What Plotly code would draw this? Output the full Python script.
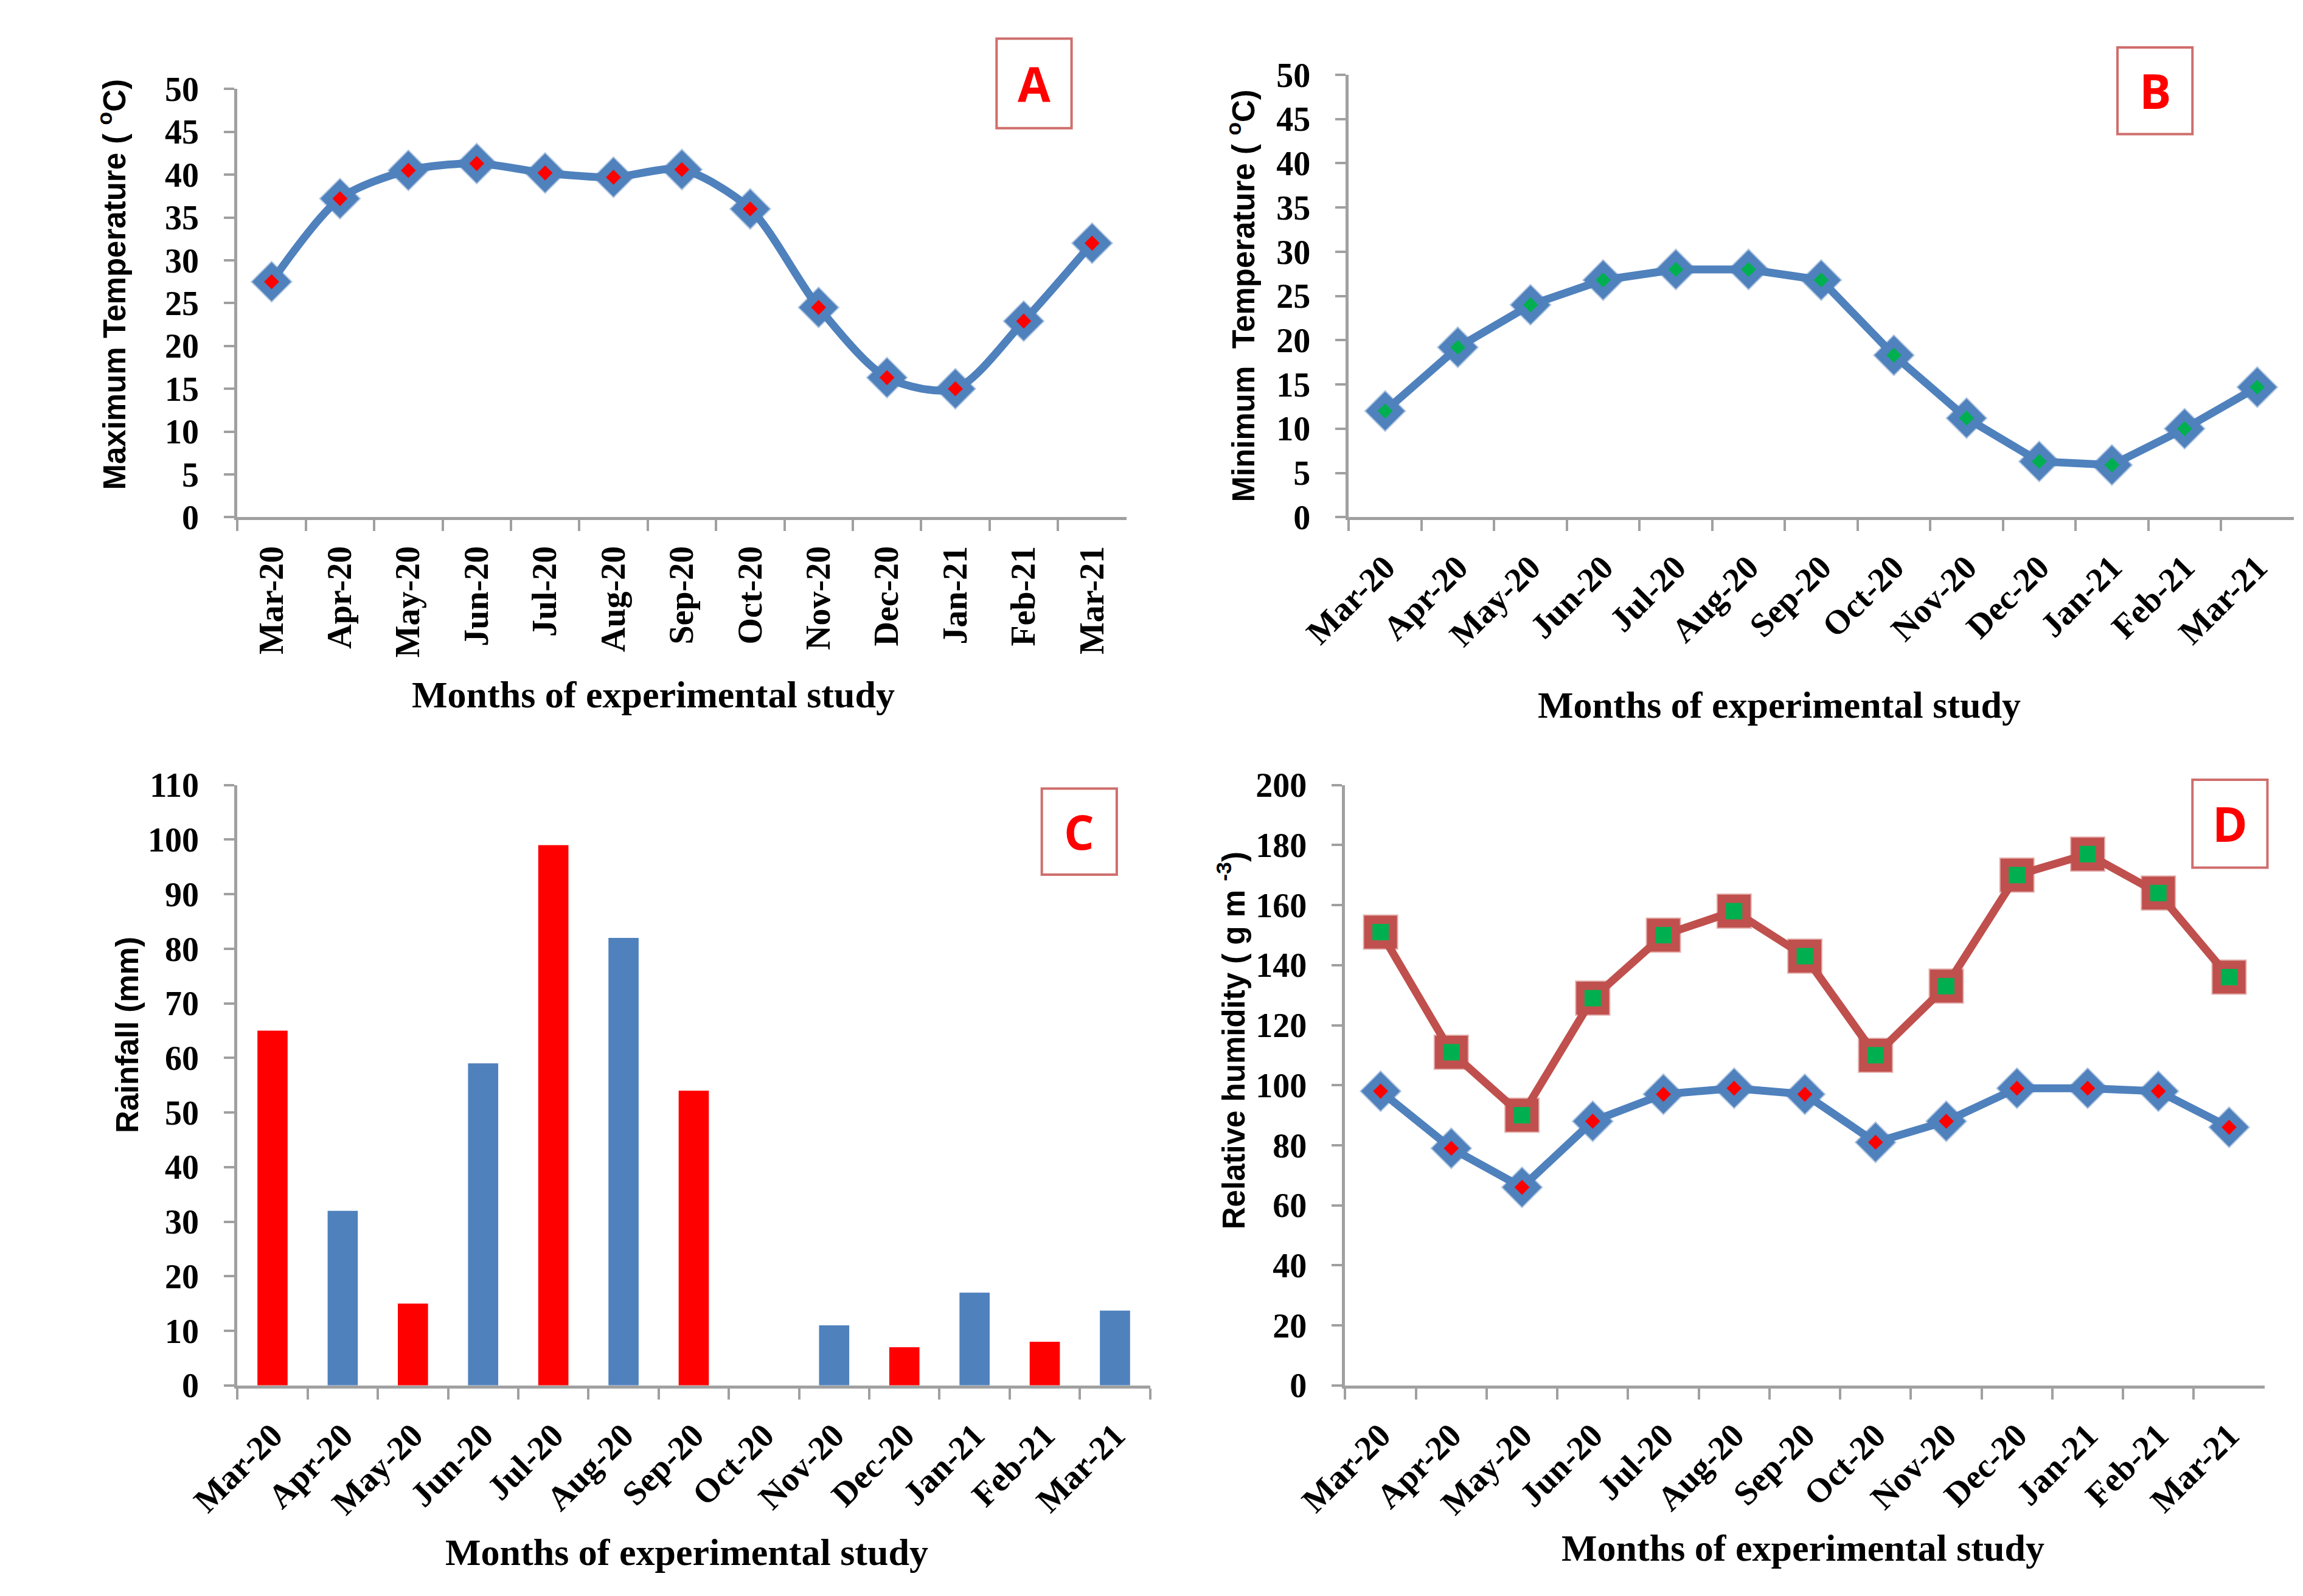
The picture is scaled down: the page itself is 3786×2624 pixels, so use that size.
import plotly.graph_objects as go

W, H = 3786, 2624

months = ["Mar-20", "Apr-20", "May-20", "Jun-20", "Jul-20", "Aug-20", "Sep-20",
          "Oct-20", "Nov-20", "Dec-20", "Jan-21", "Feb-21", "Mar-21"]
max_temp = [27.5, 37.2, 40.5, 41.3, 40.2, 39.7, 40.6, 36.0, 24.5, 16.3, 15.0, 22.9, 32.0]
min_temp = [12.0, 19.2, 24.0, 26.8, 28.0, 28.0, 26.8, 18.3, 11.2, 6.3, 5.9, 10.0, 14.7]
rainfall = [65, 32, 15, 59, 99, 82, 54, 0, 11, 7, 17, 8, 13.7]
rain_colors = ["#FF0000", "#4F81BD", "#FF0000", "#4F81BD", "#FF0000", "#4F81BD", "#FF0000",
               "#FF0000", "#4F81BD", "#FF0000", "#4F81BD", "#FF0000", "#4F81BD"]
rh_high = [151, 111, 90, 129, 150, 158, 143, 110, 133, 170, 177, 164, 136]
rh_low = [98, 79, 66, 88, 97, 99, 97, 81, 88, 99, 99, 98, 86]

BLUE = "#4F81BD"
DRED = "#C0504D"
AXC = "#A0A0A0"

def px(x):
    return x / W

def py(y):
    return 1 - y / H

fig = go.Figure()

big_diamond = dict(symbol="diamond", size=49, color=BLUE,
                   line=dict(color="rgba(79,129,189,0.45)", width=4))

# Panel A
fig.add_trace(go.Scatter(x=months, y=max_temp, mode="lines+markers", xaxis="x", yaxis="y",
                         line=dict(color=BLUE, width=13, shape="spline", smoothing=0.8),
                         marker=big_diamond, showlegend=False))
fig.add_trace(go.Scatter(x=months, y=max_temp, mode="markers", xaxis="x", yaxis="y",
                         marker=dict(symbol="diamond", size=19, color="#FF0000"), showlegend=False))
# Panel B
fig.add_trace(go.Scatter(x=months, y=min_temp, mode="lines+markers", xaxis="x2", yaxis="y2",
                         line=dict(color=BLUE, width=13),
                         marker=big_diamond, showlegend=False))
fig.add_trace(go.Scatter(x=months, y=min_temp, mode="markers", xaxis="x2", yaxis="y2",
                         marker=dict(symbol="diamond", size=19, color="#00B050"), showlegend=False))
# Panel C
fig.add_trace(go.Bar(x=months, y=rainfall, xaxis="x3", yaxis="y3", width=0.43,
                     marker=dict(color=rain_colors, line=dict(width=0)), showlegend=False))
# Panel D
fig.add_trace(go.Scatter(x=months, y=rh_high, mode="lines+markers", xaxis="x4", yaxis="y4",
                         line=dict(color=DRED, width=13),
                         marker=dict(symbol="square", size=54, color=DRED,
                                     line=dict(color="rgba(192,80,77,0.45)", width=4)),
                         showlegend=False))
fig.add_trace(go.Scatter(x=months, y=rh_high, mode="markers", xaxis="x4", yaxis="y4",
                         marker=dict(symbol="square", size=27, color="#00B050"), showlegend=False))
fig.add_trace(go.Scatter(x=months, y=rh_low, mode="lines+markers", xaxis="x4", yaxis="y4",
                         line=dict(color=BLUE, width=13),
                         marker=big_diamond, showlegend=False))
fig.add_trace(go.Scatter(x=months, y=rh_low, mode="markers", xaxis="x4", yaxis="y4",
                         marker=dict(symbol="diamond", size=19, color="#FF0000"), showlegend=False))

tickfont = dict(family="Liberation Serif", size=56, color="black", weight="bold")

def xax(dom, anchor, angle, standoff):
    return dict(domain=dom, anchor=anchor, type="category", range=[-0.5, 12.5],
                showline=True, linecolor=AXC, linewidth=5, ticks="outside", tickson="boundaries",
                ticklen=18, tickwidth=4, tickcolor=AXC, tickangle=angle, tickfont=tickfont,
                ticklabelstandoff=standoff,
                showgrid=False, zeroline=False, fixedrange=True)

def yax(dom, anchor, rng, dtick):
    return dict(domain=dom, anchor=anchor, range=rng, dtick=dtick, showline=True, linecolor=AXC,
                linewidth=5, ticks="outside", ticklen=17, tickwidth=4, tickcolor=AXC,
                tickfont=tickfont, ticklabelstandoff=30,
                showgrid=False, zeroline=False, fixedrange=True)

xA = [px(306), px(1800)]
xB = [px(2174), px(3762)]
xC = [px(306), px(1840)]
xD = [px(2168), px(3713)]
yA = [py(832), py(111)]
yB = [py(832), py(87)]
yC = [py(2294), py(1283)]
yD = [py(2294), py(1283)]

fig.update_layout(
    width=W, height=H, margin=dict(l=0, r=0, t=0, b=0),
    paper_bgcolor="white", plot_bgcolor="white",
    xaxis=xax(xA, "y", -90, 20), yaxis=yax(yA, "x", [0, 50], 5),
    xaxis2=xax(xB, "y2", -45, 22), yaxis2=yax(yB, "x2", [0, 50], 5),
    xaxis3=xax(xC, "y3", -45, 22), yaxis3=yax(yC, "x3", [0, 110], 10),
    xaxis4=xax(xD, "y4", -45, 22), yaxis4=yax(yD, "x4", [0, 200], 20),
)

xtitle_font = dict(family="Liberation Serif", size=62, color="black", weight="bold")
ytitle_font = dict(family="Liberation Sans", size=51, color="black", weight="bold")
ann = []
for txt, x, y in [("Months of experimental study", 1005, 1131),
                  ("Months of experimental study", 2898, 1148),
                  ("Months of experimental study", 1061, 2575),
                  ("Months of experimental study", 2937, 2568)]:
    ann.append(dict(text=txt, x=px(x), y=py(y), xref="paper", yref="paper", showarrow=False,
                    font=xtitle_font, xanchor="center", yanchor="middle"))
for txt, x, y in [("Maximum Temperature ( <sup>o</sup>C)", 95, 440),
                  ("Minimum  Temperature ( <sup>o</sup>C)", 1993, 459),
                  ("Rainfall (mm)", 121, 1704),
                  ("Relative humidity ( g m <sup>-3</sup>)", 1976, 1713)]:
    ann.append(dict(text=txt, x=px(x), y=py(y), xref="paper", yref="paper", showarrow=False,
                    font=ytitle_font, textangle=-90, xanchor="center", yanchor="middle"))

shapes = []
for lab, x0, y0, x1, y1 in [("A", 1582, 26, 1708, 177), ("B", 3466, 41, 3592, 187),
                            ("C", 1658, 1289, 1784, 1434), ("D", 3592, 1274, 3718, 1422)]:
    shapes.append(dict(type="rect", xref="paper", yref="paper", x0=px(x0), x1=px(x1),
                       y0=py(y1), y1=py(y0), line=dict(color="#CF6E6C", width=4), fillcolor="white"))
    ann.append(dict(text=lab, x=px((x0 + x1) / 2), y=py((y0 + y1) / 2), xref="paper", yref="paper",
                    showarrow=False, font=dict(family="Open Sans", size=78, color="#FF0000", weight="bold"),
                    xanchor="center", yanchor="middle"))

fig.update_layout(annotations=ann, shapes=shapes)
fig.write_html("out.html")
